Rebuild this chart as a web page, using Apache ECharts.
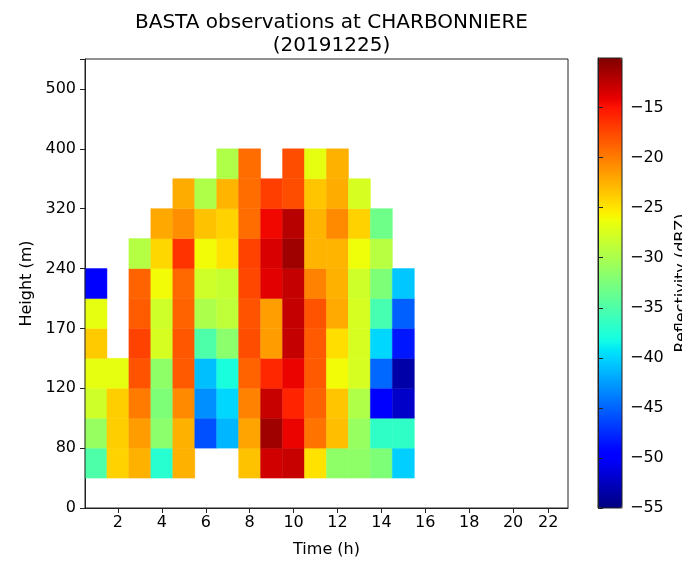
<!DOCTYPE html>
<html>
<head>
<meta charset="utf-8">
<script src="https://cdn.jsdelivr.net/npm/echarts@6/dist/echarts.min.js"></script>
<style>
html,body{margin:0;padding:0;background:#fff;}
#chart{width:682px;height:563px;}
</style>
</head>
<body>
<div id="chart"></div>
<script>
// ---- data ----
const hours = [1,2,3,4,5,6,7,8,9,10,11,12,13,14,15];
const heightTickLabels = ['0','80','120','170','240','320','400','500'];
const xTickLabels = ['2','4','6','8','10','12','14','16','18','20','22'];
const xTickPositions = [2,4,6,8,10,12,14,16,18,20,21.6];
// reflectivity (dBZ) per time column, rows from bottom (row 1) to top (row 11)
const col01 = [-34.97,-30.99,-27.99,-26.69,-23.73,-26.69,-49.62,null,null,null,null];
const col02 = [-24.09,-23.91,-23.91,-26.69,null,null,null,null,null,null,null];
const col03 = [-22.56,-21.49,-19.92,-18.04,-17.26,-18.49,-18.80,-29.46,null,null,null];
const col04 = [-37.12,-31.70,-32.38,-31.48,-27.56,-27.99,-26.10,-24.33,-22.07,null,null];
const col05 = [-22.56,-22.56,-20.68,-18.40,-18.26,-18.80,-19.07,-16.52,-20.88,-22.30,null];
const col06 = [null,-45.88,-43.08,-40.98,-34.97,-29.90,-27.99,-26.10,-23.33,-29.73,null];
const col07 = [null,-41.34,-39.90,-37.93,-31.70,-28.90,-28.43,-24.85,-24.09,-22.70,-29.73];
const col08 = [-23.33,-21.90,-20.28,-18.80,-17.73,-18.04,-17.46,-17.26,-19.25,-19.25,-19.25];
const col09 = [-13.16,-11.28,-12.84,-15.93,-21.49,-21.62,-13.92,-13.47,-14.46,-17.05,null];
const col10 = [-12.84,-14.23,-15.76,-14.23,-12.71,-12.71,-12.71,-11.28,-12.22,-17.73,-17.73];
const col11 = [-24.85,-19.56,-18.80,-18.40,-18.40,-18.04,-20.28,-22.70,-22.70,-23.55,-26.69];
const col12 = [-31.48,-23.15,-23.55,-26.10,-24.67,-22.21,-22.56,-22.70,-20.68,-22.30,-22.56];
const col13 = [-31.48,-30.99,-29.73,-27.56,-27.56,-27.56,-27.99,-26.28,-24.09,-27.56,null];
const col14 = [-32.38,-36.68,-49.62,-44.83,-39.90,-35.42,-32.38,-29.28,-33.23,null,null];
const col15 = [-40.26,-36.68,-52.20,-53.43,-48.37,-45.19,-40.62,null,null,null,null];
const columns = [col01,col02,col03,col04,col05,col06,col07,col08,col09,col10,col11,col12,col13,col14,col15];
const vMin = -55, vMax = -10.05;

// ---- jet colormap (style) ----
function jet(t){
  const seg = (pts)=>{ for(let i=1;i<pts.length;i++){ if(t<=pts[i][0]){ const a=pts[i-1],b=pts[i]; return a[1]+(b[1]-a[1])*(t-a[0])/(b[0]-a[0]); } } return pts[pts.length-1][1]; };
  const r = seg([[0,0],[0.35,0],[0.66,1],[0.89,1],[1,0.5]]);
  const g = seg([[0,0],[0.125,0],[0.375,1],[0.64,1],[0.91,0],[1,0]]);
  const b = seg([[0,0.5],[0.11,1],[0.34,1],[0.65,0],[1,0]]);
  const h = v => Math.round(v*255).toString(16).padStart(2,'0');
  return '#'+h(r)+h(g)+h(b);
}
const jetColors = [];
for(let i=0;i<=100;i++) jetColors.push(jet(i/100));

const cells = [];
columns.forEach((col,ci)=>{
  col.forEach((v,ri)=>{ if(v!==null) cells.push([hours[ci], ri+1, v]); });
});

const FONT = 'DejaVu Sans';
const chart = echarts.init(document.getElementById('chart'), null, {renderer:'canvas'});
chart.setOption({
  animation:false,
  backgroundColor:'#fff',
  textStyle:{fontFamily:FONT},
  title:{
    text:'BASTA observations at CHARBONNIERE\n(20191225)',
    left:326.5, top:6, textAlign:'center',
    textStyle:{fontFamily:FONT, fontSize:20, fontWeight:'normal', color:'#000', lineHeight:23}
  },
  grid:[
    {left:85, top:59, width:483, height:449, show:true, borderColor:'#222', borderWidth:1, z:10, backgroundColor:'transparent'},
    {left:598, top:58, width:24, height:450, show:true, borderColor:'#222', borderWidth:1, z:10, backgroundColor:'transparent'}
  ],
  xAxis:[
    {type:'value', gridIndex:0, min:0.5, max:22.5,
     name:'Time (h)', nameLocation:'middle', nameGap:34,
     nameTextStyle:{fontFamily:FONT, fontSize:16, color:'#000'},
     axisLine:{show:true, lineStyle:{color:'#222'}},
     axisTick:{show:true, length:5, inside:false, customValues:xTickPositions, lineStyle:{color:'#222'}},
     axisLabel:{show:true, margin:7, fontFamily:FONT, fontSize:16, color:'#000', customValues:xTickPositions,
       formatter:(v)=>{ const i = xTickPositions.indexOf(v); return i>=0 ? xTickLabels[i] : ''; }},
     splitLine:{show:false}},
    {type:'value', gridIndex:1, show:false, min:0, max:1}
  ],
  yAxis:[
    {type:'value', gridIndex:0, min:0, max:15, interval:2,
     name:'Height (m)', nameLocation:'middle', nameGap:49,
     nameTextStyle:{fontFamily:FONT, fontSize:16, color:'#000'},
     axisLine:{show:true, lineStyle:{color:'#222'}},
     axisTick:{show:true, length:5, inside:false, lineStyle:{color:'#222'}},
     axisLabel:{show:true, margin:9, fontFamily:FONT, fontSize:16, color:'#000',
       formatter:(v)=>{ const i=v/2; return (Number.isInteger(i) && heightTickLabels[i]!==undefined) ? heightTickLabels[i] : ''; }},
     splitLine:{show:false}},
    {type:'value', gridIndex:1, position:'right', min:vMin, max:vMax, interval:5, z:10,
     axisLine:{show:true, lineStyle:{color:'#222'}},
     axisTick:{show:true, length:5, inside:false, lineStyle:{color:'#222'}},
     axisLabel:{show:true, margin:8, fontFamily:FONT, fontSize:16, color:'#000', showMaxLabel:false,
       formatter:(v)=> (Math.abs(v % 5) < 1e-6) ? String(v).replace('-', '\u2212') : ''},
     splitLine:{show:false}}
  ],
  visualMap:{
    type:'continuous', min:vMin, max:vMax, seriesIndex:0, dimension:2,
    inRange:{color:jetColors},
    show:true, calculable:false, hoverLink:false,
    left:598, top:58, itemWidth:24, itemHeight:450, padding:0,
    text:null, showLabel:false, orient:'vertical'
  },
  graphic:[
    {type:'text', x:682, y:283, rotation:Math.PI/2,
     style:{text:'Reflectivity (dBZ)', fontFamily:FONT, fontSize:16, fill:'#000', textAlign:'center', textVerticalAlign:'middle'}}
  ],
  series:[{
    type:'custom', xAxisIndex:0, yAxisIndex:0,
    data:cells,
    renderItem:(params, api)=>{
      const x = api.value(0), y = api.value(1);
      const p0 = api.coord([x-0.5, y+1]);
      const p1 = api.coord([x+0.5, y]);
      const c = api.visual('color');
      return {type:'rect', shape:{x:p0[0], y:p0[1], width:p1[0]-p0[0], height:p1[1]-p0[1]},
        style:{fill:c, stroke:c, lineWidth:0.5}};
    }
  }]
});
</script>
</body>
</html>
